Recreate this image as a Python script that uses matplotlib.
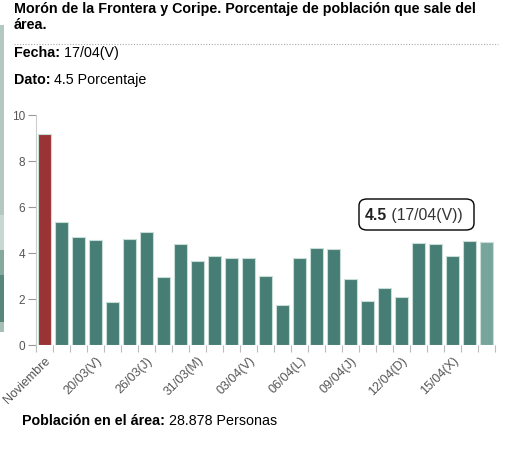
import matplotlib
matplotlib.use('Agg')
import matplotlib.pyplot as plt
from matplotlib.patches import Rectangle, FancyBboxPatch

plt.rcParams['font.family'] = ['Liberation Sans', 'DejaVu Sans']

# datos
etiquetas = ['Noviembre', '', '', '20/03(V)', '', '', '26/03(J)', '', '', '31/03(M)',
             '', '', '03/04(V)', '', '', '06/04(L)', '', '', '09/04(J)', '', '',
             '12/04(D)', '', '', '15/04(X)', '', '']
valores = [9.16, 5.33, 4.70, 4.58, 1.87, 4.59, 4.90, 2.97, 4.38, 3.67, 3.86, 3.80,
           3.77, 2.99, 1.74, 3.78, 4.20, 4.19, 2.86, 1.91, 2.48, 2.09, 4.43, 4.41,
           3.88, 4.52, 4.50]
y_ticks = [0, 2, 4, 6, 8, 10]

titulo = 'Morón de la Frontera y Coripe. Porcentaje de población que sale del\nárea.'
fecha = '17/04(V)'
dato = '4.5 Porcentaje'
poblacion = '28.878 Personas'

W, H = 527, 451
fig = plt.figure(figsize=(W / 100, H / 100), dpi=100)


def fx(px):
    return px / W


def fy(py):
    return 1 - py / H


# trozo de mapa al borde izquierdo
for y0, y1, c in [(25, 215, '#b3c8c1'), (215, 250, '#c8d7d2'), (250, 275, '#86a99f'),
                  (275, 322, '#58867a'), (322, 332, '#a5beb6')]:
    fig.add_artist(Rectangle((0, fy(y1)), fx(4), fy(y0) - fy(y1),
                             transform=fig.transFigure, color=c, lw=0))

ax = fig.add_axes([fx(36), fy(345), fx(495) - fx(36), fy(115) - fy(345)])

n = len(valores)
colores = ['#467d74'] * n
colores[0] = '#993335'
colores[-1] = '#77a59c'
ax.bar(range(n), valores, width=0.77, color=colores, edgecolor='#c9ddd8', linewidth=0.8)

ax.set_xlim(-0.5, n - 0.5)
ax.set_ylim(0, 10)
ax.set_yticks(y_ticks)
ax.set_yticklabels([str(v) for v in y_ticks])
ax.tick_params(axis='y', length=6, width=0.8, color='#999999', labelcolor='#555555',
               labelsize=8.5, pad=2)

# marcas en el inicio de cada banda, etiquetas en el centro
ax.set_xticks([i - 0.5 for i in range(n + 1)])
ax.set_xticklabels([])
ax.tick_params(axis='x', length=5, width=0.8, color='#bbbbbb')
ax.set_xticks(range(n), minor=True)
ax.set_xticklabels(etiquetas, minor=True, rotation=45, ha='right',
                   rotation_mode='anchor', color='#555555', fontsize=9)
ax.tick_params(axis='x', which='minor', length=0, pad=7)

for s in ['top', 'right', 'bottom']:
    ax.spines[s].set_visible(False)
ax.spines['left'].set_color('#cccccc')

# textos de cabecera
fig.text(fx(14), fy(2), titulo, ha='left', va='top', fontsize=10.3,
         fontweight='bold', linespacing=1.2)
fig.add_artist(plt.Line2D([fx(14), fx(498)], [fy(44), fy(44)], transform=fig.transFigure,
                          color='#aaaaaa', lw=0.8, ls=(0, (1, 1.5))))


def texto_mixto(x, y, negrita, normal, size):
    t1 = fig.text(x, y, negrita, ha='left', va='center', fontsize=size, fontweight='bold')
    fig.add_artist(plt.Annotation(' ' + normal, xy=(1, 0), xycoords=t1, ha='left',
                                  va='bottom', fontsize=size))
    return t1


texto_mixto(fx(14), fy(53), 'Fecha:', fecha, 10.3)
texto_mixto(fx(14), fy(80), 'Dato:', dato, 10.3)
texto_mixto(fx(22), fy(421), 'Población en el área:', poblacion, 10.3)

# recuadro del valor seleccionado
fig.add_artist(FancyBboxPatch((fx(359), fy(230)), fx(474) - fx(359), fy(199) - fy(230),
                              boxstyle='round,pad=0,rounding_size=0.015',
                              transform=fig.transFigure, fc='white', ec='black', lw=1))
t = fig.text(fx(365), fy(215), str(valores[-1]), ha='left', va='center', fontsize=11.3,
             fontweight='bold', color='#222222')
fig.add_artist(plt.Annotation(' (' + fecha + ')', xy=(1, 0), xycoords=t, ha='left',
                              va='bottom', fontsize=11.3, color='#333333'))

fig.savefig('out.png', dpi=100)
